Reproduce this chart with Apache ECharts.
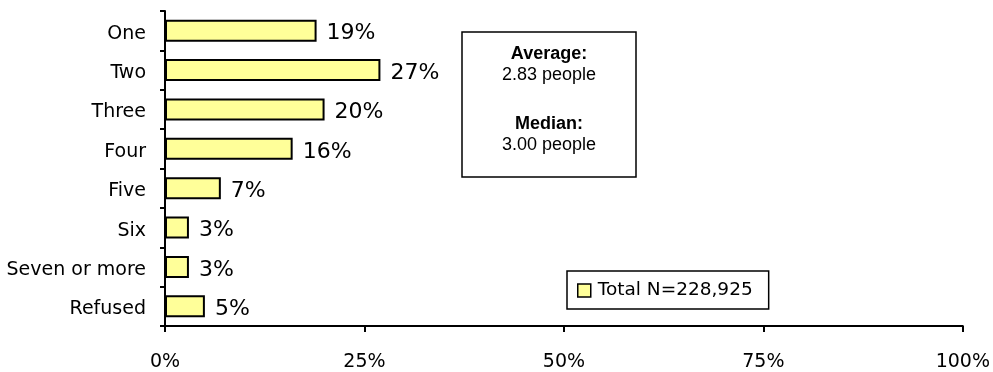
<!DOCTYPE html>
<html>
<head>
<meta charset="utf-8">
<script src="https://cdn.jsdelivr.net/npm/echarts@6/dist/echarts.min.js"></script>
<style>
  html, body { margin: 0; padding: 0; background: #fff; }
  #chart { width: 993px; height: 372px; }
</style>
</head>
<body>
<div id="chart"></div>
<script>
// Household size distribution
const categories = ['One', 'Two', 'Three', 'Four', 'Five', 'Six', 'Seven or more', 'Refused'];
const shares = [19, 27, 20, 16, 7, 3, 3, 5];
const xTicks = [0, 25, 50, 75, 100];
const seriesName = 'Total N=228,925';
const statLines = [
  { text: 'Average:', bold: true, y: 54 },
  { text: '2.83 people', bold: false, y: 75 },
  { text: 'Median:', bold: true, y: 124 },
  { text: '3.00 people', bold: false, y: 145 }
];

const FONT = 'DejaVu Sans';
const chart = echarts.init(document.getElementById('chart'), null, { renderer: 'canvas' });

const statBox = { left: 462, top: 32, width: 174, height: 145 };

const graphics = [{
  type: 'rect',
  shape: { x: statBox.left, y: statBox.top, width: statBox.width, height: statBox.height },
  style: { fill: '#fff', stroke: '#000', lineWidth: 1.5 },
  z: 10
}].concat(statLines.map(s => ({
  type: 'text',
  z: 11,
  style: {
    x: statBox.left + statBox.width / 2,
    y: s.y,
    text: s.text,
    align: 'center',
    verticalAlign: 'middle',
    fontFamily: 'Liberation Sans',
    fontWeight: s.bold ? 'bold' : 'normal',
    fontSize: 18,
    fill: '#000'
  }
})));

chart.setOption({
  animation: false,
  backgroundColor: '#ffffff',
  grid: { left: 165, right: 30, top: 11, bottom: 45, containLabel: false },
  xAxis: {
    type: 'value',
    min: 0,
    max: 100,
    interval: 25,
    axisLine: { show: true, lineStyle: { color: '#000', width: 2 } },
    axisTick: { show: true, length: 6, lineStyle: { color: '#000', width: 2 } },
    splitLine: { show: false },
    axisLabel: {
      margin: 27,
      color: '#000',
      fontFamily: FONT,
      fontSize: 19,
      formatter: v => xTicks.includes(v) ? v + '%' : ''
    }
  },
  yAxis: {
    type: 'category',
    data: categories,
    inverse: true,
    axisLine: { show: true, lineStyle: { color: '#000', width: 2 } },
    axisTick: { show: true, length: 5, lineStyle: { color: '#000', width: 2 } },
    axisLabel: {
      margin: 19, color: '#000', fontFamily: FONT, fontSize: 19,
      verticalAlign: 'top', lineHeight: 6
    }
  },
  legend: {
    show: true,
    left: 567,
    top: 271,
    itemWidth: 13,
    itemHeight: 13,
    itemGap: 0,
    padding: [10, 16, 9, 10],
    borderColor: '#000',
    borderWidth: 1.5,
    backgroundColor: '#fff',
    textStyle: { fontFamily: FONT, fontSize: 18.5, color: '#000', padding: [0, 0, 0, 2] },
    data: [{ name: seriesName, icon: 'rect', itemStyle: { borderColor: '#000', borderWidth: 1.5 } }]
  },
  series: [{
    name: seriesName,
    type: 'bar',
    data: shares,
    barWidth: '56%',
    itemStyle: { color: '#FFFF99', borderColor: '#000', borderWidth: 2 },
    label: {
      show: true,
      position: 'right',
      distance: 10,
      offset: [0, 3],
      color: '#000',
      fontFamily: FONT,
      fontSize: 22,
      formatter: p => p.value + '%'
    }
  }],
  graphic: graphics
});
</script>
</body>
</html>
